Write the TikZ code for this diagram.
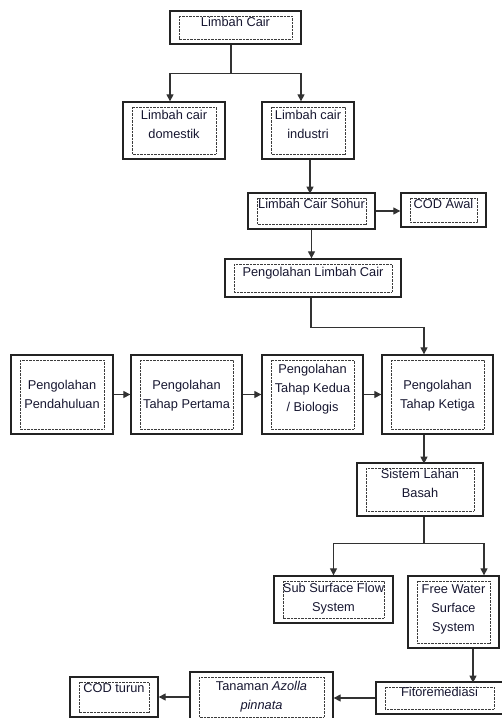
\documentclass[tikz,border=0pt]{standalone}
\usepackage{fontspec}
\setmainfont{Liberation Sans}
\usetikzlibrary{positioning,arrows.meta}
\definecolor{boxdraw}{RGB}{35,35,35}
\definecolor{linkdraw}{RGB}{50,50,50}
\definecolor{dotdraw}{RGB}{60,60,60}
\definecolor{inkc}{RGB}{22,22,48}

\begin{document}
\begin{tikzpicture}[x=1pt, y=-1pt,
  box/.style={draw=boxdraw, line width=1.3pt, align=center, inner sep=0pt, text=inkc,
    font=\fontsize{12.8}{19}\selectfont, text height=9pt, text depth=0pt,
    path picture={\draw[dotdraw, line width=0.6pt, dash pattern=on 0.7pt off 0.7pt]
      ([xshift=9pt,yshift=-5pt]path picture bounding box.north west) rectangle
      ([xshift=-9pt,yshift=5pt]path picture bounding box.south east);}},
  lift/.style={text depth=#1},
  rows2/.style={text height=28pt},
  rows3/.style={text height=47pt},
  link/.style={draw=linkdraw, line width=1.1pt, -{Triangle[length=7pt,width=7pt]}},
]
\useasboundingbox (0,0) rectangle (501,718);

% ---- source and its two kinds ----
\node[box, minimum width=131pt, minimum height=33pt, lift=11pt] (lc) at (235.5,27.5) {Limbah Cair};
\node[box, rows2, minimum width=102pt, minimum height=57pt, lift=13pt] (dom) at (174,130.5) {Limbah cair\\domestik};
\node[box, rows2, minimum width=92pt, minimum height=57pt, lift=13pt] (ind) at (308,130.5) {Limbah cair\\industri};

% ---- sample and treatment ----
\node[box, minimum width=127pt, minimum height=36pt, lift=14pt] (sohur) at (311.5,211) {Limbah Cair Sohur};
\node[box, minimum width=85pt, minimum height=34pt, lift=12pt] (codawal) at (443.5,210) {COD Awal};
\node[box, minimum width=176pt, minimum height=38pt, lift=12pt] (plc) at (313,278) {Pengolahan Limbah Cair};

% ---- treatment stages ----
\node[box, rows2, minimum width=102pt, minimum height=79pt] (pend) at (62,394.5) {Pengolahan\\Pendahuluan};
\node[box, rows2, minimum width=111pt, minimum height=79pt] (pert) at (186.5,394.5) {Pengolahan\\Tahap Pertama};
\node[box, rows3, minimum width=101pt, minimum height=79pt, lift=13pt] (kedua) at (312.5,394.5) {Pengolahan\\Tahap Kedua\\/ Biologis};
\node[box, rows2, minimum width=111pt, minimum height=79pt] (ketiga) at (437.5,394.5) {Pengolahan\\Tahap Ketiga};

% ---- wetland ----
\node[box, rows2, minimum width=126pt, minimum height=53pt, lift=13pt] (slb) at (420,489.5) {Sistem Lahan\\Basah};
\node[box, rows2, minimum width=119pt, minimum height=47pt, lift=4pt] (ssf) at (333.5,599.5) {Sub Surface Flow\\System};
\node[box, rows3, minimum width=91pt, minimum height=72pt, lift=8pt] (fwss) at (453.5,612) {Free Water\\Surface\\System};

% ---- bottom row ----
\node[box, minimum width=127pt, minimum height=32pt, lift=12pt] (fito) at (439.5,698) {Fitoremediasi};
\node[box, rows2, minimum width=143pt, minimum height=50pt, lift=4pt] (tan) at (261.5,697) {Tanaman \textit{Azolla}\\\textit{pinnata}};
\node[box, minimum width=88pt, minimum height=40pt, lift=18pt] (codt) at (114,697) {COD turun};

% ---- connectors ----
\draw[link] ([xshift=-4.5pt]lc.south) -- ++(0,29) -| ([xshift=-4pt]dom.north);
\draw[link] ([xshift=-4.5pt]lc.south) -- ++(0,29) -| ([xshift=-7pt]ind.north);
\draw[link] ([xshift=2pt]ind.south) -- ++(0,34);
\draw[link] (sohur.east) -- (sohur.east -| codawal.west);
\draw[link] (sohur.south) -- (sohur.south |- plc.north);
\draw[link] ([xshift=-2pt]plc.south) -- ++(0,30) -| ([xshift=-13.5pt]ketiga.north);
\draw[link] (pend) -- (pert);
\draw[link] (pert) -- (kedua);
\draw[link] (kedua) -- (ketiga);
\draw[link] ([xshift=-13.5pt]ketiga.south) -- ++(0,29);
\draw[link] ([xshift=4pt]slb.south) -- ++(0,27) -| (ssf.north);
\draw[link] ([xshift=4pt]slb.south) -- ++(0,27) -| ([xshift=30.5pt]fwss.north);
\draw[link] ([xshift=19.5pt]fwss.south) -- ++(0,34);
\draw[link] (fito.west) -- (fito.west -| tan.east);
\draw[link] (tan.west) -- (tan.west -| codt.east);

\end{tikzpicture}
\end{document}
